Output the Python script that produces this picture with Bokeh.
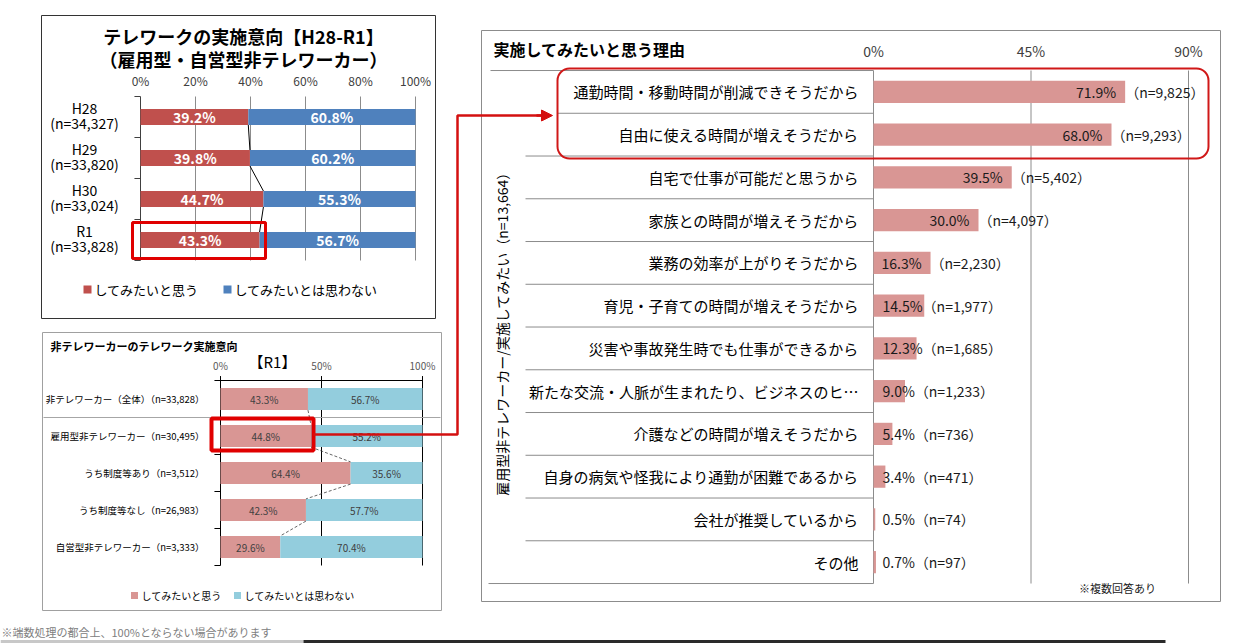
from bokeh.plotting import figure
from bokeh.models import Range1d, BoxAnnotation, Arrow, NormalHead
from bokeh.core.properties import value
from bokeh.embed import file_html
from bokeh.resources import INLINE
import math

FONT = "Noto Sans CJK JP"

# ---------------- data ----------------
c1_title1 = "テレワークの実施意向【H28-R1】"
c1_title2 = "（雇用型・自営型非テレワーカー）"
c1_cats = ["H28", "H29", "H30", "R1"]
c1_n = ["(n=34,327)", "(n=33,820)", "(n=33,024)", "(n=33,828)"]
c1_yes = [39.2, 39.8, 44.7, 43.3]
c1_no = [60.8, 60.2, 55.3, 56.7]
c1_ticks = [0, 20, 40, 60, 80, 100]
legend_labels = ["してみたいと思う", "してみたいとは思わない"]

c2_title = "非テレワーカーのテレワーク実施意向"
c2_sub = "【R1】"
c2_cats = ["非テレワーカー（全体）（n=33,828）", "雇用型非テレワーカー（n=30,495）",
           "うち制度等あり（n=3,512）", "うち制度等なし（n=26,983）",
           "自営型非テレワーカー（n=3,333）"]
c2_yes = [43.3, 44.8, 64.4, 42.3, 29.6]
c2_no = [56.7, 55.2, 35.6, 57.7, 70.4]
c2_ticks = [0, 50, 100]

c3_title = "実施してみたいと思う理由"
c3_ylabel = "雇用型非テレワーカー/実施してみたい（n=13,664）"
c3_cats = ["通勤時間・移動時間が削減できそうだから", "自由に使える時間が増えそうだから",
           "自宅で仕事が可能だと思うから", "家族との時間が増えそうだから",
           "業務の効率が上がりそうだから", "育児・子育ての時間が増えそうだから",
           "災害や事故発生時でも仕事ができるから", "新たな交流・人脈が生まれたり、ビジネスのヒ…",
           "介護などの時間が増えそうだから", "自身の病気や怪我により通勤が困難であるから",
           "会社が推奨しているから", "その他"]
c3_vals = [71.9, 68.0, 39.5, 30.0, 16.3, 14.5, 12.3, 9.0, 5.4, 3.4, 0.5, 0.7]
c3_n = ["9,825", "9,293", "5,402", "4,097", "2,230", "1,977", "1,685", "1,233",
        "736", "471", "74", "97"]
c3_ticks = [0, 45, 90]
c3_note = "※複数回答あり"
footnote = "※端数処理の都合上、100%とならない場合があります"

# ---------------- colours ----------------
RED1, BLUE1 = "#C0504D", "#4F81BD"
PINK, LBLUE = "#D99694", "#93CDDD"
HL = "#E00000"

W, H = 1244, 643


def lin(v0, p0, v1, p1, pa, pb):
    k = (p1 - p0) / (v1 - v0)
    return Range1d(start=v0 + (pa - p0) / k, end=v0 + (pb - p0) / k)


p = figure(width=W, height=H, x_range=Range1d(0, W), y_range=Range1d(H, 0),
           output_backend="svg", toolbar_location=None,
           x_axis_location=None, y_axis_location=None, min_border=0,
           outline_line_color=None, background_fill_color="white")
p.title.visible = False
p.grid.visible = False

p.extra_x_ranges = {
    "c1x": lin(0, 140, 100, 415, 0, W),
    "c2x": lin(0, 220, 100, 422, 0, W),
    "c3x": lin(0, 873, 90, 1188, 0, W),
}
p.extra_y_ranges = {
    "c1y": lin(0, 116.5, 3, 239.5, H, 0),
    "c2y": lin(0, 398.5, 4, 546.5, H, 0),
    "c3y": lin(0, 91.4, 11, 91.4 + 11 * 42.75, H, 0),
}


def txt(x, y, text, size, color="#000000", align="left", baseline="middle", bold=False,
        xr="default", yr="default", angle=0, x_offset=0, y_offset=0):
    p.text(x=x, y=y, text=text, text_font=value(FONT), text_font_size=f"{size}px",
           text_color=color, text_align=align, text_baseline=baseline,
           text_font_style="bold" if bold else "normal", angle=angle,
           x_offset=x_offset, y_offset=y_offset, x_range_name=xr, y_range_name=yr)


def box(l, r, t, b, color, width=1):
    p.quad(left=[l], right=[r], top=[t], bottom=[b], fill_alpha=0,
           line_color=color, line_width=width)


# =============== chart 1 ===============
box(41, 435, 15, 318, "#333333")
txt([243], [35], [c1_title1], 18, bold=True, align="center")
txt([243], [58], [c1_title2], 18, bold=True, align="center")
i1 = list(range(len(c1_cats)))
K1 = dict(x_range_name="c1x", y_range_name="c1y")
p.segment(x0=c1_ticks[1:], y0=-0.5, x1=c1_ticks[1:], y1=len(c1_cats) - 0.5,
          line_color="#8C8C8C", line_width=1, **K1)
p.segment(x0=0, y0=-0.5, x1=0, y1=len(c1_cats) - 0.5, line_color="#404040", **K1)
bnd1 = [i - 0.5 for i in range(len(c1_cats) + 1)]
p.segment(x0=-2.2, y0=bnd1, x1=0, y1=bnd1, line_color="#404040", **K1)
h1 = 0.39
p.hbar(y=i1, left=0, right=c1_yes, height=h1, fill_color=RED1, line_color=None, **K1)
p.hbar(y=i1, left=c1_yes, right=[a + b for a, b in zip(c1_yes, c1_no)], height=h1,
       fill_color=BLUE1, line_color=None, **K1)
p.segment(x0=c1_yes[:-1], y0=[i + h1 / 2 for i in i1[:-1]], x1=c1_yes[1:],
          y1=[i - h1 / 2 for i in i1[1:]], line_color="#000000", line_width=1, **K1)
txt([v / 2 for v in c1_yes], i1, [f"{v:.1f}%" for v in c1_yes], 14, color="white",
    bold=True, align="center", xr="c1x", yr="c1y")
txt([a + b / 2 for a, b in zip(c1_yes, c1_no)], i1, [f"{v:.1f}%" for v in c1_no], 14,
    color="white", bold=True, align="center", xr="c1x", yr="c1y")
txt([84] * len(i1), i1, c1_cats, 14, align="center", yr="c1y", y_offset=-9)
txt([84] * len(i1), i1, c1_n, 14, align="center", yr="c1y", y_offset=6)
txt(c1_ticks, [80] * len(c1_ticks), [f"{t}%" for t in c1_ticks], 12, color="#404040",
    align="center", xr="c1x")
p.scatter(x=[87, 227], y=[289, 289], marker="square", size=8, color=[RED1, BLUE1],
          line_color=None)
txt([94, 234], [289, 289], legend_labels, 13)
box(132, 265, 222, 258, HL, 3)

# =============== chart 2 ===============
box(42, 441, 332, 610, "#A0A0A0")
txt([50], [345], [c2_title], 11, bold=True)
txt([272], [361], [c2_sub], 15, align="center")
i2 = list(range(len(c2_cats)))
K2 = dict(x_range_name="c2x", y_range_name="c2y")
txt(c2_ticks, [365] * len(c2_ticks), [f"{t}%" for t in c2_ticks], 10, color="#595959",
    align="center", xr="c2x")
p.segment(x0=0, y0=-0.5, x1=100, y1=-0.5, line_color="#000000", **K2)
p.segment(x0=c2_ticks, y0=-0.62, x1=c2_ticks, y1=len(c2_cats) - 0.5,
          line_color="#000000", line_width=1, **K2)
bnd2 = [i - 0.5 for i in range(len(c2_cats) + 1)]
p.segment(x0=-3, y0=bnd2, x1=0, y1=bnd2, line_color="#000000", **K2)
p.segment(x0=43, y0=0.5, x1=440, y1=0.5, line_color="#A6A6A6", line_width=1,
          y_range_name="c2y")
h2 = 0.6
p.hbar(y=i2, left=0, right=c2_yes, height=h2, fill_color=PINK, line_color=None, **K2)
p.hbar(y=i2, left=c2_yes, right=[a + b for a, b in zip(c2_yes, c2_no)], height=h2,
       fill_color=LBLUE, line_color=None, **K2)
p.segment(x0=c2_yes[:-1], y0=[i + h2 / 2 for i in i2[:-1]], x1=c2_yes[1:],
          y1=[i - h2 / 2 for i in i2[1:]], line_color="#404040", line_width=0.8,
          line_dash="3 2", **K2)
txt([v / 2 for v in c2_yes], i2, [f"{v:.1f}%" for v in c2_yes], 10, color="#404040",
    align="center", xr="c2x", yr="c2y")
txt([a + b / 2 for a, b in zip(c2_yes, c2_no)], i2, [f"{v:.1f}%" for v in c2_no], 10,
    color="#404040", align="center", xr="c2x", yr="c2y")
txt([204] * len(i2), i2, c2_cats, 9.5, align="right", yr="c2y")
p.scatter(x=[134, 237], y=[595, 595], marker="square", size=7, color=[PINK, LBLUE],
          line_color=None)
txt([141, 244], [595, 595], legend_labels, 10)
box(211, 313, 418, 450, HL, 4)

# =============== chart 3 ===============
box(481, 1220, 30, 601, "#8C8C8C")
txt([493], [48], [c3_title], 16, bold=True)
i3 = list(range(len(c3_cats)))
K3 = dict(x_range_name="c3x", y_range_name="c3y")
n3 = len(c3_cats)
p.segment(x0=490, y0=-0.5, x1=873, y1=-0.5, line_color="#8C8C8C", y_range_name="c3y")
p.segment(x0=557, y0=0.5, x1=873, y1=0.5, line_color="#8C8C8C", y_range_name="c3y")
mids = [i + 0.5 for i in range(1, n3 - 1)]
p.segment(x0=525, y0=mids, x1=873, y1=mids, line_color="#8C8C8C", y_range_name="c3y")
p.segment(x0=488, y0=n3 - 0.5, x1=873, y1=n3 - 0.5, line_color="#8C8C8C",
          y_range_name="c3y")
p.segment(x0=c3_ticks, y0=-0.5, x1=c3_ticks, y1=n3 - 0.5, line_color="#8C8C8C", **K3)
h3 = 0.52
p.hbar(y=i3, left=0, right=c3_vals, height=h3, fill_color=PINK, line_color=None, **K3)
txt(c3_ticks, [50] * len(c3_ticks), [f"{t}%" for t in c3_ticks], 14, color="#404040",
    align="center", xr="c3x")
txt([858] * n3, i3, c3_cats, 15, align="right", yr="c3y")
big = [i for i, v in enumerate(c3_vals) if v >= 16]
small = [i for i, v in enumerate(c3_vals) if v < 16]
txt([c3_vals[i] for i in big], big, [f"{c3_vals[i]:.1f}%" for i in big], 14,
    color="#1A1A1A", align="right", xr="c3x", yr="c3y", x_offset=-9)
txt([c3_vals[i] for i in big], big, [f"（n={c3_n[i]}）" for i in big], 14,
    color="#1A1A1A", align="left", xr="c3x", yr="c3y", x_offset=0)
txt([0] * len(small), small, [f"{c3_vals[i]:.1f}%（n={c3_n[i]}）" for i in small], 14,
    color="#1A1A1A", align="left", xr="c3x", yr="c3y", x_offset=9)
txt([501], [330], [c3_ylabel], 14, align="center", angle=math.pi / 2)
txt([1117], [587], [c3_note], 11, align="center", color="#1A1A1A")
p.add_layout(BoxAnnotation(left=557, right=1208, top=68, bottom=158, fill_alpha=0,
                           line_color="#D01818", line_alpha=1, line_width=2,
                           border_radius=12))

# connector arrow
p.line(x=[313, 457, 457, 541], y=[434, 434, 115, 115], line_color="#D41010", line_width=2.5)
p.add_layout(Arrow(end=NormalHead(size=11, fill_color="#D41010", line_color="#D41010"),
                   x_start=536, y_start=115, x_end=552, y_end=115,
                   line_color="#D41010", line_width=2.5))

# footnote and page edge
txt([1], [631], [footnote], 11, color="#808080")
p.segment(x0=[0, 303], y0=[641, 641], x1=[303, 1165], y1=[641, 641],
          line_color=["#C8C8C8", "#2A2A2A"], line_width=3)

open("out.html", "w").write(file_html(p, INLINE))
